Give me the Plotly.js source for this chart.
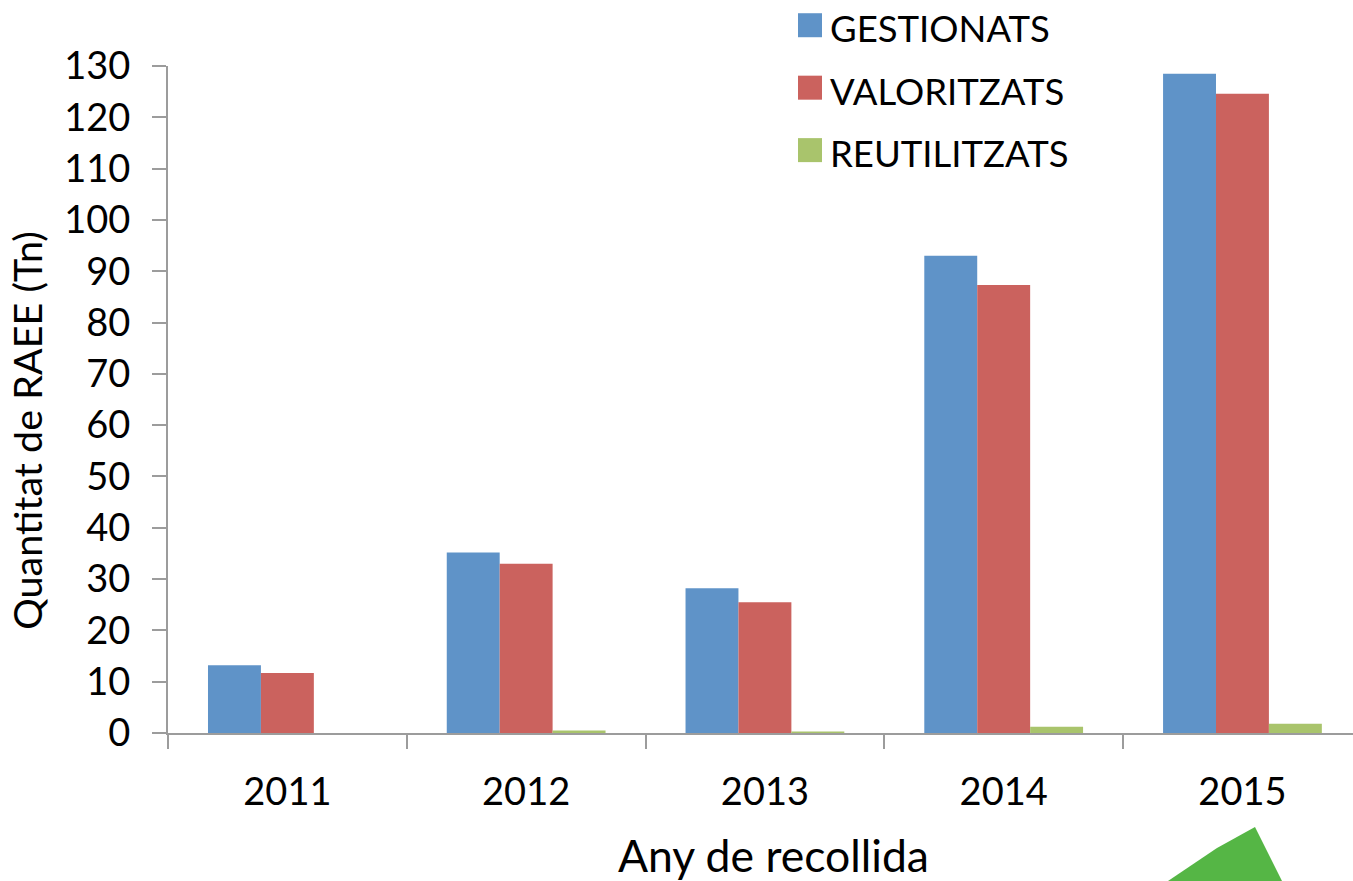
<!DOCTYPE html>
<html><head><meta charset="utf-8">
<script src="https://cdn.plot.ly/plotly-3.0.1.min.js"></script>
<style>html,body{margin:0;padding:0;background:#fff;overflow:hidden}</style>
</head><body><div id="chart" style="width:1353px;height:881px"></div>
<script>
const years = ['2011','2012','2013','2014','2015'];
const gestionats = [13.2, 35.2, 28.2, 93, 128.5];
const valoritzats = [11.7, 33, 25.5, 87.3, 124.6];
const reutilitzats = [0, 0.5, 0.3, 1.2, 1.8];
const names = ['GESTIONATS','VALORITZATS','REUTILITZATS'];
const colors = ['#5F93C8','#CB625E','#A9C46C'];
const yTicks = [0,10,20,30,40,50,60,70,80,90,100,110,120,130];
const font = 'Lato, Carlito, "Open Sans", sans-serif';
const W = 1353, H = 881, M = {l:168, r:0, t:66, b:148, pad:0};
const px = x => (x - M.l) / (W - M.l - M.r);
const py = y => (H - M.b - y) / (H - M.t - M.b);
const series = [gestionats, valoritzats, reutilitzats];
const data = series.map((v,i) => ({
  type:'bar', name:names[i], x:years, y:v, legendgroup:names[i],
  marker:{color:colors[i], line:{width:0}}
}));
const layout = {
  width:W, height:H, margin:M, paper_bgcolor:'#fff', plot_bgcolor:'#fff',
  barmode:'group', bargap:0.335, bargroupgap:0,
  font:{family:font, color:'#000'},
  xaxis:{type:'category', range:[-0.5,4.463], tickson:'boundaries', ticks:'outside', ticklen:14, tickwidth:2, tickcolor:'#9c9c9c',
    showline:true, linecolor:'#9c9c9c', linewidth:2, showgrid:false, zeroline:false,
    tickfont:{family:font,size:38}, ticklabelstandoff:24,
    title:{text:'Any de recollida', font:{family:font,size:44.5}, standoff:29}},
  yaxis:{range:[0,130], tickvals:yTicks, ticktext:yTicks.map(String), ticks:'outside', ticklen:14, tickwidth:2, tickcolor:'#9c9c9c',
    showline:true, linecolor:'#9c9c9c', linewidth:2, showgrid:false, zeroline:false,
    tickfont:{family:font,size:38}, ticklabelstandoff:14,
    title:{text:'Quantitat de RAEE (Tn)', font:{family:font,size:39.5}, standoff:9}},
  legend:{x:px(790), y:py(0), xanchor:'left', yanchor:'top', bgcolor:'rgba(0,0,0,0)', traceorder:'grouped', tracegroupgap:12,
    itemwidth:30, itemclick:false, itemdoubleclick:false, font:{family:font,size:36.5,color:'#000'}},
  shapes:[{type:'path', xref:'paper', yref:'paper', layer:'above',
    path:`M ${px(1168)} ${py(881)} L ${px(1217)} ${py(848)} L ${px(1255)} ${py(827)} L ${px(1282)} ${py(881)} Z`,
    fillcolor:'#55B645', line:{width:0}}],
  showlegend:true
};
Plotly.newPlot('chart', data, layout, {displayModeBar:false, staticPlot:true}).then(gd => {
  gd.querySelectorAll('.legend .legendpoints path').forEach(p => p.setAttribute('d','M12,9H-12V-15H12Z'));
  const lg = gd.querySelector('.legend');
  if (lg) lg.setAttribute('transform', 'translate(0,-2) ' + (lg.getAttribute('transform')||''));
  const yt = gd.querySelector('.ytitle');
  if (yt) yt.setAttribute('transform', 'translate(0,31) ' + (yt.getAttribute('transform')||''));
  const xt = gd.querySelector('.xtitle');
  if (xt) xt.setAttribute('transform', 'translate(13,0) ' + (xt.getAttribute('transform')||''));
});
</script></body></html>
